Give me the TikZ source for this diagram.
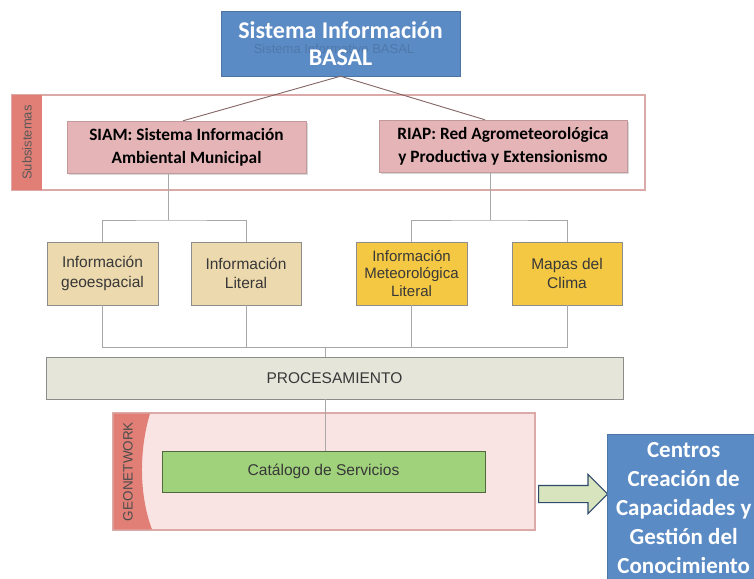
\documentclass[tikz,border=0pt]{standalone}
\usepackage{fontspec}
\setmainfont{Liberation Sans}
\newfontfamily\calib{Carlito}
\usetikzlibrary{shapes.arrows, positioning, shadows}

\definecolor{basalblue}{HTML}{5B8BC5}
\definecolor{subpink}{HTML}{E4B4B7}
\definecolor{panelline}{HTML}{DBA9A7}
\definecolor{stripred}{HTML}{E17F76}
\definecolor{tanbox}{HTML}{ECD9AD}
\definecolor{goldbox}{HTML}{F4C843}
\definecolor{procgray}{HTML}{E6E5DA}
\definecolor{geopink}{HTML}{F9E4E3}
\definecolor{catgreen}{HTML}{A0D27B}
\definecolor{arrowgreen}{HTML}{D8E4BD}
\definecolor{arrowblue}{HTML}{2E4A6B}
\definecolor{linkgray}{HTML}{A8A8A8}

\begin{document}
\begin{tikzpicture}[x=1pt, y=-1pt, font=\fontsize{15.5}{19.5}\selectfont]
    \tikzstyle{title} = [rectangle, draw=basalblue!85!black, fill=basalblue, text=white, align=center, inner sep=0pt, font=\calib\bfseries\fontsize{24}{27}\selectfont]
    \tikzstyle{subsys} = [rectangle, draw=subpink!85!black, fill=subpink, align=center, inner sep=0pt, font=\calib\bfseries\fontsize{17.3}{23}\selectfont, drop shadow={opacity=0.3, shadow xshift=1.5pt, shadow yshift=-1.5pt}]
    \tikzstyle{info} = [rectangle, draw=black!45, line width=0.9pt, fill=tanbox, text=black!78, align=center, inner sep=0pt, minimum width=111pt, minimum height=63pt, font=\fontsize{15.5}{19.5}\selectfont, drop shadow={opacity=0.25, shadow xshift=1.2pt, shadow yshift=-1.2pt}]
    \tikzstyle{panel} = [rectangle, draw=panelline, line width=1.2pt, inner sep=0pt]
    \tikzstyle{side} = [rotate=90, text=black!65, font=\fontsize{13}{15}\selectfont]
    \tikzstyle{link} = [draw=linkgray, line width=0.9pt]

    \useasboundingbox (0,0) rectangle (754,578);

    % Panels
    \node [panel, fill=white, minimum width=633pt, minimum height=95pt, drop shadow={opacity=0.15, shadow xshift=1pt, shadow yshift=-1pt}] (subpanel) at (328.5,142.5) {};
    \node [panel, draw=none, fill=stripred, minimum width=30pt, minimum height=95pt] (substrip) at (27,142.5) {};
    \node [side] (sublabel) at (substrip.center) {Subsistemas};

    \node [panel, fill=geopink, minimum width=422pt, minimum height=117pt, drop shadow={opacity=0.2, shadow xshift=1pt, shadow yshift=-1pt}] (geopanel) at (324,471.5) {};
    \fill [stripred] (113.6,413.6) -- (150,413.6) .. controls (139,450) and (139,495) .. (152,529.4) -- (113.6,529.4) -- cycle;
    \node [side, text=black!70, font=\fontsize{13.5}{15}\selectfont] (geolabel) at (128,471.5) {GEONETWORK};

    % Nodes
    \node [title, minimum width=239pt, minimum height=65pt] (basal) at (340.5,43.5) {};
    \node [text=basalblue!55!black, opacity=0.3, font=\fontsize{13}{15}\selectfont] (ghost) at (334,49) {Sistema Informativo BASAL};
    \node [title, draw=none, fill=none] (basaltxt) at (340.5,43.5) {Sistema Información\\BASAL};

    \node [subsys, minimum width=239pt, minimum height=52pt] (siam) at (186.5,147) {SIAM: Sistema Información\\Ambiental Municipal};
    \node [subsys, minimum width=248pt, minimum height=52pt] (riap) at (503,146) {RIAP: Red Agrometeorológica\\y Productiva y Extensionismo};

    \node [info] (geo) at (102.5,273.5) {Información\\geoespacial};
    \node [info, minimum width=110pt] (lit) at (246,273.5) {Información\\Literal};
    \node [info, fill=goldbox, font=\fontsize{15}{17.5}\selectfont] (met) at (411.5,273.5) {Información\\Meteorológica\\Literal};
    \node [info, fill=goldbox, minimum width=110pt] (clima) at (567,273.5) {Mapas del\\Clima};

    \node [info, fill=procgray, minimum width=577pt, minimum height=42pt] (proc) at (334.5,378) {PROCESAMIENTO};
    \node [info, fill=catgreen, draw=black!50!catgreen, minimum width=323pt, minimum height=41pt, font=\fontsize{15.6}{18}\selectfont] (cat) at (323.5,471.5) {Catálogo de Servicios};

    \node [single arrow, draw=arrowblue, line width=1.2pt, fill=arrowgreen, minimum height=69pt, inner sep=8pt, single arrow head extend=11pt, anchor=tail] (toward) at (538,494) {};
    \node [title, anchor=north west, minimum width=153pt, minimum height=147pt, font=\calib\bfseries\fontsize{23}{29}\selectfont] (centros) at (607,434) {Centros\\Creación de\\Capacidades y\\Gestión del\\Conocimiento};

    % Connections
    \coordinate (siamj) at (168,220);
    \coordinate (riapj) at (490,220);
    \coordinate (bus) at (325,347);
    \draw [link, draw=black!40!panelline] (basal.south) -- ([xshift=-3.5pt]siam.north);
    \draw [link, draw=black!40!panelline] (basal.south) -- ([xshift=-18pt]riap.north);
    \draw [link] (siam.south -| siamj) -- (siamj);
    \draw [link] (geo.north) |- (siamj) -| (lit.north);
    \draw [link] (riap.south -| riapj) -- (riapj);
    \draw [link] (met.north) |- (riapj) -| (clima.north);
    \draw [link] (geo.south) |- (clima.south |- bus) -- (clima.south);
    \draw [link] (lit.south) -- (lit.south |- bus);
    \draw [link] (met.south) -- (met.south |- bus);
    \draw [link] (bus) -- (bus |- proc.north);
    \draw [link] (proc.south -| bus) -- (cat.north -| bus);
\end{tikzpicture}
\end{document}
